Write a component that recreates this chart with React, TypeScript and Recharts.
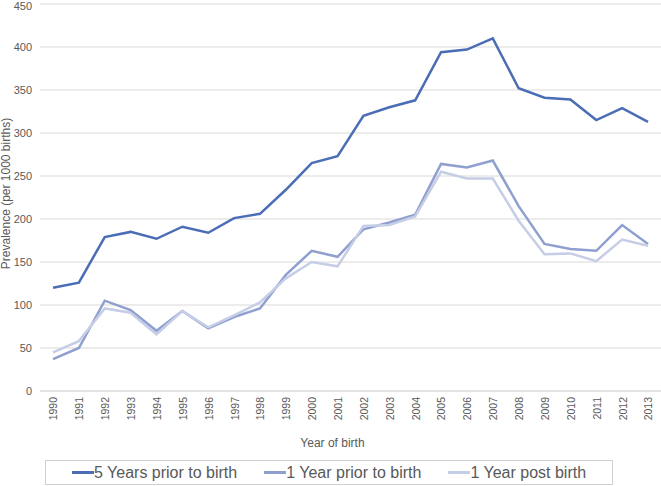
import React from "react";
import { LineChart, Line, XAxis, YAxis, CartesianGrid } from "recharts";

const years = [
  "1990", "1991", "1992", "1993", "1994", "1995", "1996", "1997", "1998", "1999", "2000", "2001",
  "2002", "2003", "2004", "2005", "2006", "2007", "2008", "2009", "2010", "2011", "2012", "2013",
];
const fiveYearsPrior = [120, 126, 179, 185, 177, 191, 184, 201, 206, 234, 265, 273, 320, 330, 338, 394, 397, 410, 352, 341, 339, 315, 329, 313];
const oneYearPrior = [37, 50, 105, 94, 70, 93, 73, 86, 96, 135, 163, 156, 188, 196, 205, 264, 260, 268, 215, 171, 165, 163, 193, 171];
const oneYearPost = [45, 58, 96, 91, 66, 93, 74, 88, 103, 131, 150, 145, 192, 193, 203, 255, 247, 247, 198, 159, 160, 151, 176, 169];
const yTicks = [0, 50, 100, 150, 200, 250, 300, 350, 400, 450];

const seriesNames = ["5 Years prior to birth", "1 Year prior to birth", "1 Year post birth"];
const colors = ["#4A6DB5", "#8F9FCF", "#C6CDE6"];

const data = years.map((y, i) => ({
  year: y,
  a: fiveYearsPrior[i],
  b: oneYearPrior[i],
  c: oneYearPost[i],
}));

const FONT = "'Liberation Sans', Arial, sans-serif";

export default function App() {
  return (
    <div style={{ position: "absolute", left: 0, top: 0, width: 661, height: 486, background: "#fff", fontFamily: FONT }}>
      <LineChart width={661} height={460} data={data} margin={{ top: 4, right: 0, bottom: 0, left: 0 }}>
        <CartesianGrid vertical={false} stroke="#D9D9D9" />
        <XAxis
          dataKey="year"
          interval={0}
          height={69}
          padding={{ left: 13, right: 13 }}
          tickLine={false}
          axisLine={{ stroke: "#D9D9D9" }}
          angle={-90}
          textAnchor="end"
          tickMargin={0}
          tick={{ fontSize: 10.5, fill: "#595959", fontFamily: FONT, dx: -3, dy: 0 }}
          label={{ value: "Year of birth", position: "insideBottom", offset: 13, dx: -18, fontSize: 12, fill: "#595959", fontFamily: FONT }}
        />
        <YAxis
          domain={[0, 450]}
          ticks={yTicks}
          width={40}
          tickLine={false}
          axisLine={false}
          tick={{ fontSize: 11, fill: "#595959", fontFamily: FONT }}
          label={{ value: "Prevalence (per 1000 births)", angle: -90, position: "insideLeft", offset: 0, dx: 6, dy: -4, fontSize: 12, fill: "#595959", fontFamily: FONT, style: { textAnchor: "middle" } }}
        />
        <Line dataKey="a" name={seriesNames[0]} stroke={colors[0]} strokeWidth={2.5} dot={false} isAnimationActive={false} />
        <Line dataKey="b" name={seriesNames[1]} stroke={colors[1]} strokeWidth={2.5} dot={false} isAnimationActive={false} />
        <Line dataKey="c" name={seriesNames[2]} stroke={colors[2]} strokeWidth={2.5} dot={false} isAnimationActive={false} />
      </LineChart>
      <div
        style={{
          position: "absolute",
          left: 45,
          top: 460,
          width: 566,
          height: 23,
          border: "1px solid #D0D0D0",
          display: "flex",
          alignItems: "center",
          fontSize: 16,
          color: "#595959",
          whiteSpace: "nowrap",
        }}
      >
        {seriesNames.map((n, i) => (
          <div key={n} style={{ display: "flex", alignItems: "center", marginLeft: i === 0 ? 26 : 27 }}>
            <div style={{ width: 22, height: 2.5, background: colors[i] }} />
            <span>{n}</span>
          </div>
        ))}
      </div>
    </div>
  );
}
